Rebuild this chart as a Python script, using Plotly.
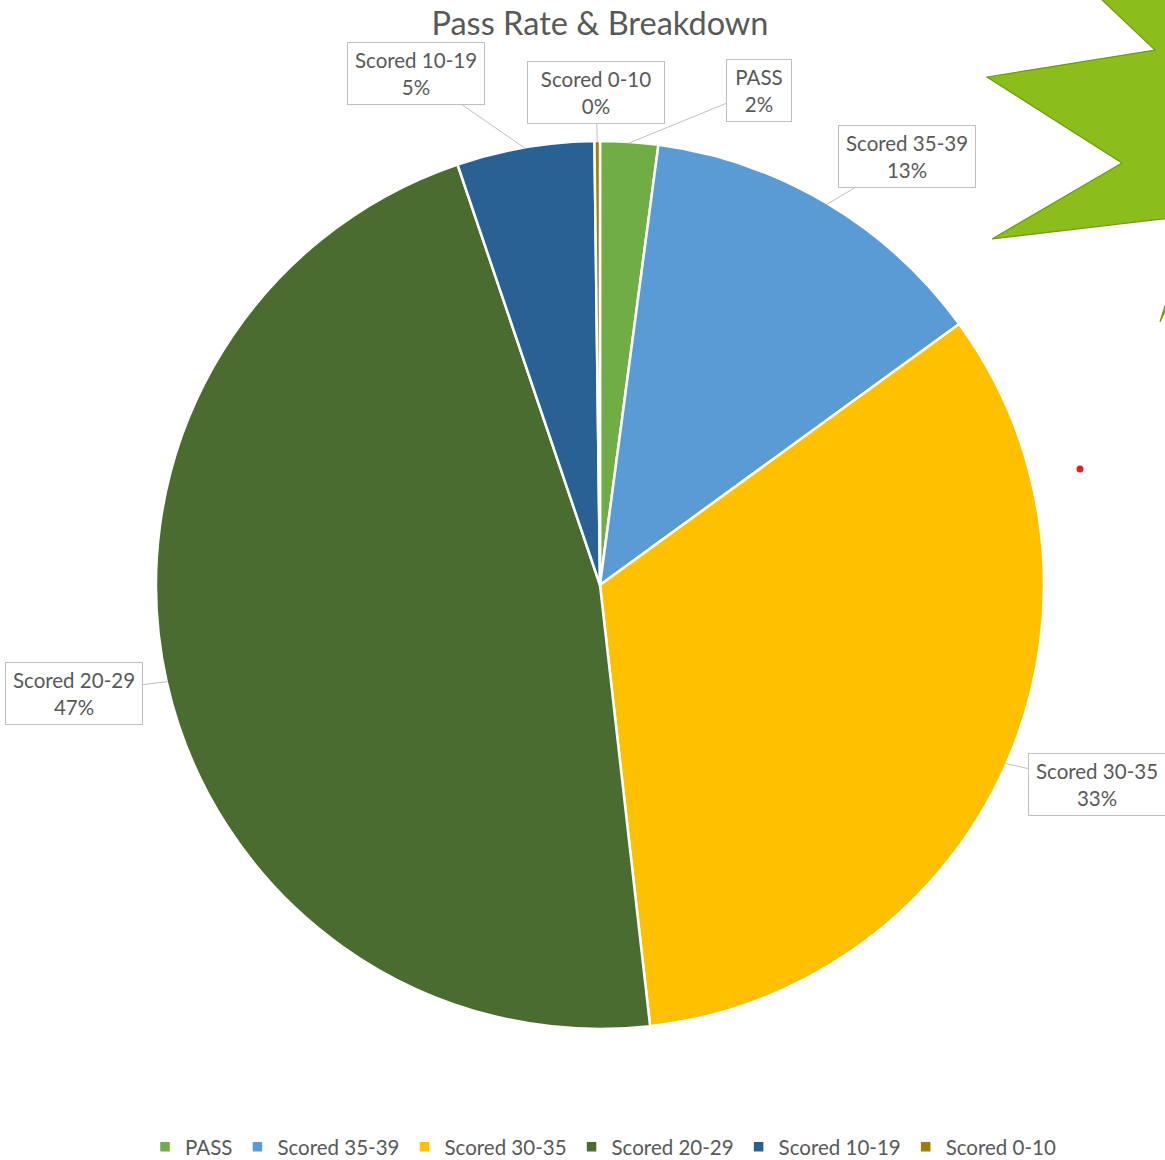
import math
import plotly.graph_objects as go

# ---- data ----
labels = ["PASS", "Scored 35-39", "Scored 30-35", "Scored 20-29", "Scored 10-19", "Scored 0-10"]
values = [2.1, 12.9, 33.2, 46.6, 5.0, 0.2]
colors = ["#70AD47", "#5B9BD5", "#FFC000", "#4B6C30", "#2A6195", "#A07C0C"]
title_text = "Pass Rate & Breakdown"

# ---- layout constants (pixels) ----
W, H = 1165, 1160
CX, CY, R = 600, 585, 443
# label box centres (pixel positions of the callouts)
box_centres = {
    "PASS": (759, 90),
    "Scored 35-39": (907, 157),
    "Scored 30-35": (1097, 784),
    "Scored 20-29": (74, 693),
    "Scored 10-19": (416, 73),
    "Scored 0-10": (596, 92),
}

def px2paper(x, y):
    return x / W, 1 - y / H

fig = go.Figure()
RD = R + 1
fig.add_trace(go.Pie(
    labels=labels, values=values, sort=False, direction="clockwise", rotation=0,
    marker=dict(colors=colors, line=dict(color="white", width=2.5)),
    textinfo="none", textposition="inside", hoverinfo="label+percent",
    domain=dict(x=[(CX - RD) / W, (CX + RD) / W], y=[1 - (CY + RD) / H, 1 - (CY - RD) / H]),
))

total = sum(values)
annotations = []
cum = 0.0
for lab, v in zip(labels, values):
    mid = (cum + v / 2) / total * 2 * math.pi
    cum += v
    tipx = CX + R * math.sin(mid)
    tipy = CY - R * math.cos(mid)
    bx, by = box_centres[lab]
    px, py = px2paper(tipx, tipy)
    annotations.append(dict(
        x=px, y=py, xref="paper", yref="paper",
        text=f"{lab}<br>{v/total:.0%}",
        showarrow=True, arrowhead=0, arrowwidth=1, arrowcolor="#BFBFBF", standoff=0,
        ax=bx - tipx, ay=by - tipy,
        font=dict(family="Lato, Open Sans, sans-serif", size=20.5, color="#595959"),
        bordercolor="#BFBFBF", borderwidth=1, borderpad=3, bgcolor="white",
        width=130 if lab != "PASS" else 58, height=55, align="center",
    ))

# starburst decoration (top-right)
star_px = [(1100, -2), (1155, 50), (987, 77), (1122, 163), (992, 239), (1170, 218),
           (1170, 290), (1160, 322), (1170, 300), (1170, -2)]
path = "M " + " L ".join(f"{px2paper(x, y)[0]:.5f},{px2paper(x, y)[1]:.5f}" for x, y in star_px) + " Z"
shapes = [
    dict(type="path", xref="paper", yref="paper", path=path,
         fillcolor="#8BBE1B", line=dict(color="#6E9A14", width=1.2), layer="above"),
]
dx, dy = px2paper(1080, 469)
shapes.append(dict(type="circle", xref="paper", yref="paper",
                   x0=dx - 3.5 / W, x1=dx + 3.5 / W, y0=dy - 3.5 / H, y1=dy + 3.5 / H,
                   fillcolor="#E0202A", line=dict(width=0)))

fig.update_layout(
    width=W, height=H, margin=dict(l=0, r=0, t=0, b=0, autoexpand=False),
    paper_bgcolor="white", plot_bgcolor="white",
    title=dict(text=title_text, x=600 / W, xanchor="center", y=1 - 24 / H, yanchor="middle",
               font=dict(family="Lato, Open Sans, sans-serif", size=32.5, color="#595959")),
    annotations=annotations, shapes=shapes,
    showlegend=True,
    legend=dict(orientation="h", x=603 / W, xanchor="center", y=1 - 1147 / H, yanchor="middle",
                font=dict(family="Lato, Open Sans, sans-serif", size=20.5, color="#595959"),
                itemclick=False, traceorder="normal"),
)

fig.write_html("out.html")
